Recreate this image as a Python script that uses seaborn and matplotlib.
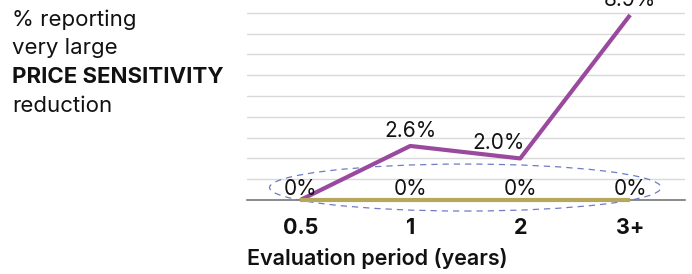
import matplotlib
matplotlib.use("Agg")
import matplotlib.pyplot as plt
from matplotlib.patches import Ellipse
import pandas as pd
import seaborn as sns

# chart data
periods = ["0.5", "1", "2", "3+"]
large_reduction = [0.0, 2.6, 2.0, 8.9]
other_series = [0.0, 0.0, 0.0, 0.0]

sns.set_theme(style="white")
plt.rcParams["font.family"] = ["Inter", "DejaVu Sans"]

df = pd.DataFrame({
    "period": periods * 2,
    "value": large_reduction + other_series,
    "series": ["large"] * 4 + ["zero"] * 4,
})

fig = plt.figure(figsize=(6.92, 2.74), dpi=100)
ax = fig.add_axes([0.357, 0.27, 0.633, 0.73])

purple = "#9a4a9e"
olive = "#b5a85c"

sns.lineplot(data=df, x="period", y="value", hue="series",
             palette={"large": purple, "zero": olive},
             linewidth=3, sort=False, legend=False, ax=ax)

# olive line sits on the baseline, drawn above it
for ln in ax.get_lines():
    ln.set_clip_on(False)
    ln.set_solid_capstyle("butt")
    if ln.get_color() == olive:
        ln.set_zorder(4)
    else:
        ln.set_zorder(3.5)

ax.set_xlim(-0.485, 3.5)
ax.set_ylim(0, 9.62)
ax.set_yticks(range(1, 10))
ax.yaxis.grid(True, color="#d9d9d9", linewidth=1)
ax.tick_params(axis="y", left=False, labelleft=False)
ax.tick_params(axis="x", bottom=False, pad=7)
for lbl in ax.get_xticklabels():
    lbl.set_fontweight("bold")
    lbl.set_fontsize(15.5)
    lbl.set_color("#111111")

for s in ["top", "right", "left"]:
    ax.spines[s].set_visible(False)
ax.spines["bottom"].set_color("#777777")
ax.spines["bottom"].set_linewidth(1.2)

ax.set_xlabel("")
ax.set_ylabel("")
fig.text(0.357, 0.032, "Evaluation period (years)", fontsize=15.5,
         fontweight="semibold", color="#111111", ha="left")

# value labels
for i, v in enumerate(large_reduction):
    if v == 0:
        continue
    dx = -0.2 if i == 2 else 0
    ax.text(i + dx, v + 0.25, f"{v:.1f}%", ha="center", va="bottom",
            fontsize=15, color="#111111", clip_on=False)
for i, v in enumerate(other_series):
    ax.text(i, v + 0.05, f"{v:.0f}%", ha="center", va="bottom",
            fontsize=15, color="#111111", zorder=5)

ell = Ellipse((1.5, 0.6), 3.56, 2.26, fill=False, edgecolor="#6e7cc4",
              linestyle=(0, (5, 4)), linewidth=0.9, clip_on=False, zorder=3)
ax.add_patch(ell)

# left side description
lines = [("% reporting", "normal"), ("very large", "normal"),
         ("PRICE SENSITIVITY", "bold"), ("reduction", "normal")]
for k, (t, w) in enumerate(lines):
    fig.text(0.017, 1 - (20 + 28.5 * k) / 274, t, fontsize=16,
             fontweight=w, color="#111111", ha="left", va="center")

fig.savefig("out.png", dpi=100)
